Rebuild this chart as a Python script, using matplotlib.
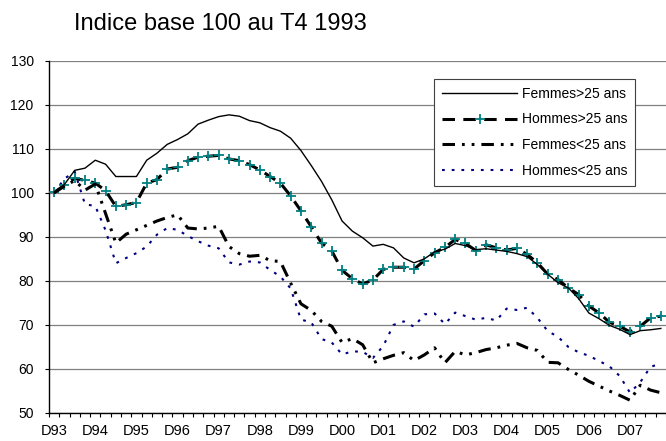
import matplotlib
matplotlib.use('Agg')
import matplotlib.pyplot as plt
import numpy as np

plt.rcParams['font.family'] = ['Liberation Sans', 'DejaVu Sans']
plt.rcParams['lines.scale_dashes'] = False

# quarterly index, base 100 = Q4 1993 (D93 ... Q3 2008)
year_labels = ['D93', 'D94', 'D95', 'D96', 'D97', 'D98', 'D99', 'D00',
               'D01', 'D02', 'D03', 'D04', 'D05', 'D06', 'D07']

femmes_plus25 = [100.0, 101.9, 105.1, 105.6, 107.4, 106.5, 103.7, 103.7, 103.7, 107.4,
                 109.0, 111.0, 112.1, 113.4, 115.6, 116.5, 117.3, 117.7, 117.4, 116.4,
                 115.9, 114.8, 114.0, 112.4, 109.6, 106.2, 102.6, 98.4, 93.6, 91.3,
                 89.8, 87.9, 88.3, 87.5, 85.2, 84.1, 85.0, 86.6, 87.2, 88.5,
                 88.0, 87.1, 87.3, 87.0, 86.7, 86.2, 85.5, 83.7, 81.5, 79.6,
                 78.4, 76.0, 72.7, 71.4, 69.9, 69.0, 67.8, 68.7, 68.9, 69.2]

hommes_plus25 = [100.1, 101.7, 103.3, 102.8, 102.2, 100.5, 96.9, 97.3, 97.8, 102.2,
                 103.0, 105.4, 105.8, 107.3, 108.1, 108.3, 108.5, 107.7, 107.3, 106.4,
                 105.2, 103.7, 102.2, 99.3, 95.9, 92.3, 88.6, 86.8, 82.4, 80.5,
                 79.3, 80.2, 82.6, 83.1, 83.1, 82.7, 84.6, 86.4, 87.6, 89.4,
                 88.5, 86.9, 88.2, 87.5, 87.0, 87.4, 86.0, 84.1, 81.5, 80.3,
                 78.4, 76.9, 74.3, 72.7, 70.6, 69.7, 68.4, 69.7, 71.6, 72.0]

femmes_moins25 = [100.0, 101.5, 102.8, 100.6, 102.0, 95.3, 88.6, 90.6, 91.6, 92.6,
                  93.6, 94.4, 95.0, 92.0, 91.8, 92.0, 92.4, 87.8, 86.2, 85.6,
                  85.8, 84.6, 84.4, 79.5, 74.8, 73.3, 70.8, 69.7, 66.0, 66.9,
                  65.5, 61.4, 62.3, 63.1, 63.7, 61.9, 63.2, 64.8, 61.4, 64.0,
                  63.2, 63.7, 64.4, 64.8, 65.4, 65.8, 64.8, 64.2, 61.5, 61.4,
                  59.9, 58.6, 57.2, 56.1, 55.0, 54.0, 52.9, 56.3, 55.2, 54.6]

hommes_moins25 = [100.0, 103.2, 104.8, 97.4, 97.0, 91.5, 84.0, 85.2, 86.3, 87.8,
                  90.5, 92.0, 91.6, 90.2, 89.0, 88.0, 87.4, 84.2, 83.7, 84.4,
                  84.2, 82.5, 81.0, 78.3, 71.2, 70.6, 66.8, 66.0, 63.3, 64.0,
                  63.9, 62.5, 65.2, 70.0, 70.8, 69.6, 72.4, 72.6, 70.2, 72.8,
                  72.0, 71.2, 71.6, 71.0, 73.7, 73.4, 73.9, 71.6, 68.6, 67.3,
                  65.0, 63.8, 63.0, 61.8, 60.6, 58.4, 54.6, 57.0, 60.5, 61.2]

x = np.arange(len(femmes_plus25))

fig = plt.figure(figsize=(6.66, 4.41), dpi=100)
ax = fig.add_axes([49 / 666, 1 - 413 / 441, 617 / 666, (413 - 60.7) / 441])

ax.plot(x, femmes_plus25, color='black', lw=1.0, label='Femmes>25 ans', zorder=4)
ax.plot(x, hommes_plus25, color='black', lw=2.2, ls=(0, (9, 6)),
        marker='+', ms=7.5, mew=1.3, mec='#008080', mfc='#008080',
        label='Hommes>25 ans', zorder=3)
ax.plot(x, femmes_moins25, color='black', lw=2.2, ls=(0, (9, 5, 2, 5, 2, 5)),
        label='Femmes<25 ans', zorder=3)
ax.plot(x, hommes_moins25, color='#000080', lw=1.5, ls=(0, (2, 5)),
        label='Hommes<25 ans', zorder=2)

ax.set_xlim(-0.5, 58.66)
ax.set_ylim(50, 130)
ax.set_yticks(np.arange(50, 131, 10))
ax.yaxis.grid(True, color='#808080', lw=0.9)
ax.set_axisbelow(True)

ax.set_xticks(np.arange(0, len(year_labels) * 4, 4))
ax.set_xticklabels(year_labels, fontsize=10.5)
ax.set_xticks(np.arange(-0.5, len(x) + 0.5, 1), minor=True)
ax.tick_params(axis='x', which='major', length=0, pad=8)
ax.tick_params(axis='x', which='minor', length=3, width=0.8, color='black')
ax.tick_params(axis='y', length=3, width=0.8, pad=8, labelsize=10)

for s in ['top', 'right']:
    ax.spines[s].set_visible(False)
ax.spines['left'].set_color('black')
ax.spines['bottom'].set_color('black')
ax.spines['left'].set_linewidth(1.0)
ax.spines['bottom'].set_linewidth(1.0)

leg = ax.legend(loc='upper right', bbox_to_anchor=(635 / 666, 1 - 79 / 441),
                bbox_transform=fig.transFigure, borderaxespad=0, fontsize=10,
                numpoints=1, handlelength=5.4, handletextpad=0.35,
                labelspacing=0.85, borderpad=0.55, fancybox=False,
                framealpha=1, edgecolor='#404040')
leg.get_frame().set_linewidth(0.8)

fig.text(74 / 666, 1 - 30 / 441, 'Indice base 100 au T4 1993', fontsize=17,
         va='baseline', ha='left')

fig.savefig('out.png', dpi=100)
